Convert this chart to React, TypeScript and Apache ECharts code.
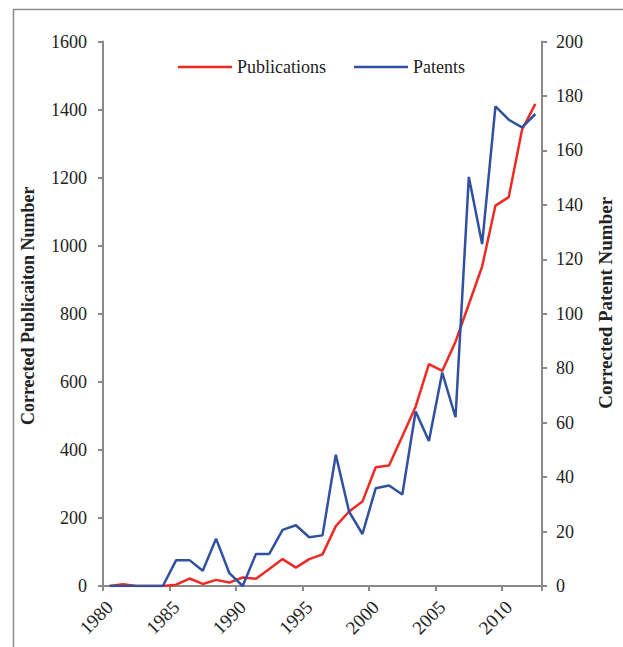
import React, { useEffect, useRef } from "react";
import * as echarts from "echarts";

// Years on the category axis (one point per year)
const years: string[] = [
  "1980", "1981", "1982", "1983", "1984", "1985", "1986", "1987", "1988", "1989",
  "1990", "1991", "1992", "1993", "1994", "1995", "1996", "1997", "1998", "1999",
  "2000", "2001", "2002", "2003", "2004", "2005", "2006", "2007", "2008", "2009",
  "2010", "2011", "2012",
];

// Corrected publication counts (left axis)
const publications: number[] = [
  0, 5, 0, 0, 0, 4, 22, 6, 18, 10,
  25, 21, 50, 79, 54, 79, 93, 176, 219, 248,
  349, 354, 440, 527, 652, 632, 718, 828, 939, 1118,
  1143, 1341, 1417,
];

// Corrected patent counts (right axis)
const patents: number[] = [
  0, 0, 0, 0, 0, 9.5, 9.5, 5.6, 17.4, 4.7,
  0, 11.8, 11.8, 20.6, 22.3, 17.9, 18.6, 48.2, 27.3, 19.1,
  35.9, 36.9, 33.6, 64.1, 53.3, 78.4, 62.0, 150.3, 125.6, 176.2,
  171.3, 168.5, 173.4,
];

const axisColor = "#8a8a8a";
const textColor = "#222";
const serif = "'Liberation Serif', 'Times New Roman', serif";
const lineIcon = "path://M0,0 L54,0 L54,2.5 L0,2.5 Z";

export default function App() {
  const ref = useRef<HTMLDivElement>(null);

  useEffect(() => {
    if (!ref.current) return;
    const chart = echarts.init(ref.current, undefined, { renderer: "svg" });
    chart.setOption({
      animation: false,
      backgroundColor: "#ffffff",
      textStyle: { fontFamily: serif },
      graphic: [
        {
          type: "rect",
          left: 11,
          top: 7,
          shape: { width: 700, height: 700 },
          style: { fill: "none", stroke: "#8c8c8c", lineWidth: 1.5 },
          silent: true,
        },
      ],
      legend: {
        top: 53,
        left: 173,
        itemGap: 28,
        itemWidth: 54,
        itemHeight: 20,
        textStyle: { fontFamily: serif, fontSize: 18, color: textColor },
        data: [
          { name: "Publications", icon: lineIcon },
          { name: "Patents", icon: lineIcon },
        ],
      },
      grid: { left: 103, right: 80, top: 41.6, bottom: 61, containLabel: false },
      xAxis: {
        type: "category",
        data: years,
        boundaryGap: true,
        axisLine: { show: true, lineStyle: { color: axisColor, width: 2 } },
        axisTick: {
          show: true,
          interval: 4,
          alignWithLabel: false,
          length: 5,
          lineStyle: { color: axisColor, width: 2 },
        },
        axisLabel: {
          interval: 4,
          rotate: 45,
          margin: 18,
          fontFamily: serif,
          fontSize: 19,
          color: textColor,
        },
        splitLine: { show: false },
      },
      yAxis: [
        {
          type: "value",
          min: 0,
          max: 1600,
          interval: 200,
          position: "left",
          name: "Corrected Publicaiton Number",
          nameLocation: "middle",
          nameRotate: 90,
          nameGap: 66,
          nameTextStyle: {
            fontFamily: serif,
            fontSize: 18,
            fontWeight: "bold",
            color: textColor,
            padding: [0, 0, 0, 16],
          },
          axisLine: { show: true, lineStyle: { color: axisColor, width: 2 } },
          axisTick: { show: true, length: 5, lineStyle: { color: axisColor, width: 2 } },
          axisLabel: {
            margin: 16,
            fontFamily: serif,
            fontSize: 18,
            color: textColor,
            formatter: (v: number) => String(v),
          },
          splitLine: { show: false },
        },
        {
          type: "value",
          min: 0,
          max: 200,
          interval: 20,
          position: "right",
          name: "Corrected Patent Number",
          nameLocation: "middle",
          nameRotate: 90,
          nameGap: 54,
          nameTextStyle: {
            fontFamily: serif,
            fontSize: 19,
            fontWeight: "bold",
            color: textColor,
            padding: [0, 0, 0, 22],
          },
          axisLine: { show: true, lineStyle: { color: axisColor, width: 2 } },
          axisTick: { show: true, length: 5, lineStyle: { color: axisColor, width: 2 } },
          axisLabel: {
            margin: 14,
            fontFamily: serif,
            fontSize: 18,
            color: textColor,
            formatter: (v: number) => String(v),
          },
          splitLine: { show: false },
        },
      ],
      series: [
        {
          name: "Publications",
          type: "line",
          yAxisIndex: 0,
          data: publications,
          symbol: "none",
          color: "#ee2a24",
          lineStyle: { color: "#ee2a24", width: 2.5 },
          z: 3,
        },
        {
          name: "Patents",
          type: "line",
          yAxisIndex: 1,
          data: patents,
          symbol: "none",
          color: "#3050a0",
          lineStyle: { color: "#3050a0", width: 2.5 },
          z: 4,
        },
      ],
    });
    return () => chart.dispose();
  }, []);

  return (
    <div
      ref={ref}
      style={{ position: "fixed", left: 0, top: 0, width: 623, height: 647 }}
    />
  );
}
